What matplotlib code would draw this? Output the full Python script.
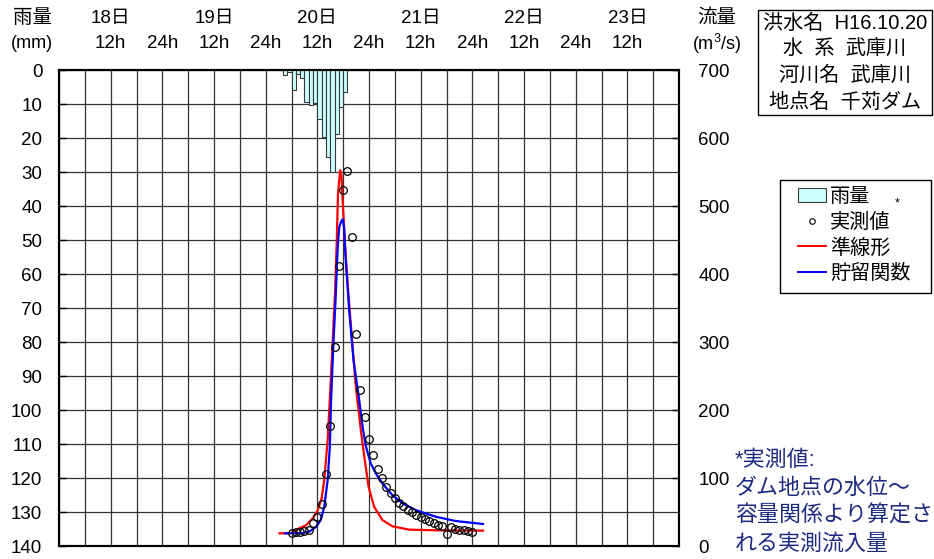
import numpy as np
import matplotlib
matplotlib.use("Agg")
import matplotlib.pyplot as plt
from matplotlib.transforms import blended_transform_factory
from matplotlib.patches import Patch, Rectangle
from matplotlib.lines import Line2D

plt.rcParams['font.family'] = ['Liberation Sans', 'Noto Sans CJK JP', 'DejaVu Sans']
plt.rcParams['mathtext.fontset'] = 'custom'
plt.rcParams['mathtext.rm'] = 'Liberation Sans'
plt.rcParams['mathtext.it'] = 'Liberation Sans'

# ---- data (hours counted from 18日 0h) ----
rain_hours = list(range(52, 67))
rain_mm = [1.3, 0.5, 5.8, 1.1, 2.3, 9.2, 10.2, 9.7, 14.3, 19.7, 25.6, 30.0, 18.7, 10.9, 6.3]

obs_hours = list(range(54, 97))
obs_q = [19.6, 20.6, 21, 22.5, 24.4, 33.8, 43.5, 61.7, 106, 177, 293, 412, 524, 552,
         455, 312, 230, 190, 158, 134, 114, 100, 87, 78, 71.5, 64, 59, 54, 50, 46.5,
         42.6, 39.7, 36.8, 33.8, 31.8, 29.9, 17.6, 27.9, 25.9, 24.4, 23.5, 22, 21]

red_hours = [51.2, 53.9, 55.8, 57.4, 58.9, 60.1, 61.0, 61.6, 62.4, 62.9, 63.5, 64.1, 64.5,
             64.8, 65.3, 65.6, 65.8, 66.4, 67.2, 68.2, 68.8, 69.3, 70.1, 70.9, 71.9, 73.2,
             75.1, 77.4, 81.3, 87.5, 98.5]
red_q = [19, 19.5, 26.5, 31, 41, 53, 70.6, 97.5, 156, 216, 293, 372, 446,
         519, 553, 546, 519, 446, 372, 293, 245, 215, 171, 132, 87.6, 58,
         38.7, 29.5, 24.5, 23.5, 23]

blue_hours = [52.5, 56.6, 58.1, 59.7, 60.8, 61.6, 62.4, 62.9, 63.2, 63.7, 64.3, 64.6, 64.8,
              65.1, 65.5, 65.9, 66.2, 66.6, 67.4, 68.4, 69.7, 70.5, 71.3, 72.4, 73.6, 75.1,
              77.4, 79.8, 82.8, 87.5, 92.1, 98.5]
blue_q = [19, 19.5, 21.5, 28.4, 38.7, 58, 97.5, 146, 216, 293, 372, 421, 446,
          470, 477, 481, 470, 421, 347, 274, 216, 176, 146.5, 122, 107, 92.6,
          75.4, 63.2, 53.4, 43.5, 37.2, 32.8]

day_labels = ['18日', '19日', '20日', '21日', '22日', '23日']
day_label_hours = [12, 36, 60, 84, 108, 132]
hour_label_hours = [12, 24, 36, 48, 60, 72, 84, 96, 108, 120, 132]
hour_labels = ['12h', '24h', '12h', '24h', '12h', '24h', '12h', '24h', '12h', '24h', '12h']
rain_ticks = list(range(0, 141, 10))
flow_ticks = list(range(0, 701, 100))

info_lines = ['洪水名  H16.10.20', '水  系  武庫川', '河川名  武庫川', '地点名  千苅ダム']
note_lines = ['*実測値:', 'ダム地点の水位～', '容量関係より算定さ', 'れる実測流入量']

W, H = 934, 559
fig = plt.figure(figsize=(W / 100, H / 100), dpi=100)
ax = fig.add_axes([59 / W, 1 - 546.3 / H, 620 / W, 476 / H])
ax.set_xlim(0, 144)
ax.set_ylim(140, 0)
ax.set_xticks(np.arange(0, 145, 6))
ax.tick_params(axis='x', which='both', bottom=False, top=False, labelbottom=False)
ax.set_yticks(rain_ticks)
ax.tick_params(axis='y', direction='in', length=5, width=1, labelsize=13.5, pad=12, colors='black')
ax.grid(True, color='#333333', lw=0.9)
ax.set_axisbelow(True)
for s in ax.spines.values():
    s.set_linewidth(1.5)
    s.set_color('black')

ax.bar(rain_hours, rain_mm, width=1.0, align='edge', color='#ccffff', edgecolor='#3a3a3a',
       linewidth=0.8, zorder=3)

ax2 = ax.twinx()
ax2.set_ylim(0, 700)
ax2.set_yticks(flow_ticks)
ax2.tick_params(axis='y', direction='in', length=5, width=1, labelsize=13.5, pad=14)
for s in ax2.spines.values():
    s.set_linewidth(1.5)
ax2.patch.set_visible(False)

ax2.plot(red_hours, red_q, color='#ff0000', lw=1.6, zorder=4)
ax2.plot(blue_hours, blue_q, color='#0000ff', lw=1.6, zorder=4)
ax2.plot(obs_hours, obs_q, linestyle='none', marker='o', markersize=5.5, markerfacecolor='none',
         markeredgecolor='black', markeredgewidth=0.9, zorder=5)

# header labels
tr = blended_transform_factory(ax.transData, fig.transFigure)
for h, lab in zip(day_label_hours, day_labels):
    ax.text(h, 1 - 18 / H, lab, transform=tr, ha='center', va='center', fontsize=13.5)
for h, lab in zip(hour_label_hours, hour_labels):
    ax.text(h, 1 - 44 / H, lab, transform=tr, ha='center', va='center', fontsize=13.5)

fig.text(32 / W, 1 - 18 / H, '雨量', ha='center', va='center', fontsize=14)
fig.text(32 / W, 1 - 44 / H, '(mm)', ha='center', va='center', fontsize=13)
fig.text(717 / W, 1 - 18 / H, '流量', ha='center', va='center', fontsize=14)
fig.text(717 / W, 1 - 44 / H, '(m$^3$/s)', ha='center', va='center', fontsize=13)

# info box
fig.patches.append(Rectangle((758 / W, 1 - 115 / H), 174 / W, 105 / H, transform=fig.transFigure,
                             fill=False, edgecolor='black', lw=1.0))
for i, line in enumerate(info_lines):
    fig.text(845 / W, 1 - (23 + 26.3 * i) / H, line, ha='center', va='center', fontsize=14.5)

# legend (frame drawn separately)
fig.patches.append(Rectangle((780 / W, 1 - 293 / H), 151 / W, 113 / H, transform=fig.transFigure,
                             fill=False, edgecolor='black', lw=1.0))
handles = [Patch(facecolor='#ccffff', edgecolor='#3a3a3a', lw=0.8),
           Line2D([], [], linestyle='none', marker='o', markersize=4, markerfacecolor='none',
                  markeredgecolor='black', markeredgewidth=0.8),
           Line2D([], [], color='#ff0000', lw=1.4),
           Line2D([], [], color='#0000ff', lw=1.4)]
leg = fig.legend(handles, ['雨量', '実測値', '準線形', '貯留関数'], loc='upper left',
                 bbox_to_anchor=(798 / W, 1 - 187 / H), fontsize=14.5, frameon=False,
                 borderpad=0, labelspacing=0.32, handlelength=1.4, handletextpad=0.2,
                 borderaxespad=0)
fig.text(897 / W, 1 - 203 / H, '*', ha='center', va='center', fontsize=9)

# note
for i, line in enumerate(note_lines):
    fig.text(735 / W, 1 - (460 + 28 * i) / H, line, ha='left', va='center', fontsize=15.8,
             color='#1c2a80')

fig.savefig('out.png', dpi=100)
